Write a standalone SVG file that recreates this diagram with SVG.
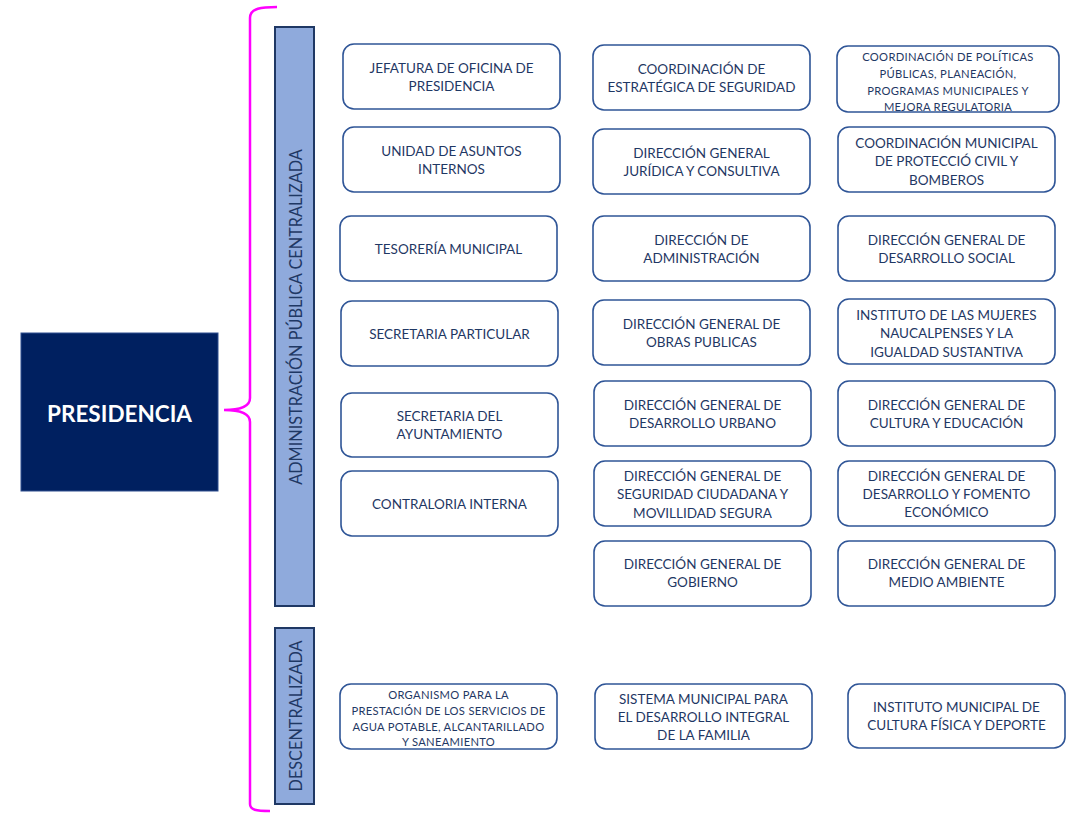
<svg xmlns="http://www.w3.org/2000/svg" width="1073" height="814" viewBox="0 0 1073 814">
<style>
.box{fill:#ffffff;stroke:#2f5597;stroke-width:1.6}
.t{font-family:Lato,"Liberation Sans",sans-serif;font-size:13.5px;fill:#1f3864;text-anchor:middle;dominant-baseline:central}
.s{font-size:11.2px;letter-spacing:0.3px}
.bar{fill:#8faadc;stroke:#1f3864;stroke-width:2}
.vt{font-family:Lato,"Liberation Sans",sans-serif;font-size:16.3px;fill:#1f3864;text-anchor:middle;dominant-baseline:central}
</style>
<rect width="1073" height="814" fill="#ffffff"/>
<g id="connectors">
<path d="M277 7 C262 7 250 8 250 18 L250 398 C250 406 241 410 224 410 C241 410 250 414 250 422 L250 804 C250 810 256 811 270 811" fill="none" stroke="#ff00ff" stroke-width="2.5"/>
</g>
<g id="presidencia">
<rect x="21" y="333" width="197" height="158" fill="#002060" stroke="#2f4f8f" stroke-width="1"/>
<text x="119.5" y="413" font-family="Lato,'Liberation Sans',sans-serif" font-size="22.5" font-weight="bold" fill="#ffffff" text-anchor="middle" dominant-baseline="central">PRESIDENCIA</text>
</g>
<g id="centralizada">
<rect class="bar" x="275" y="27" width="39" height="579"/>
<text class="vt" transform="translate(295 317) rotate(-90)">ADMINISTRACIÓN PÚBLICA CENTRALIZADA</text>
</g>
<g id="descentralizada">
<rect class="bar" x="275" y="628" width="39" height="176"/>
<text class="vt" transform="translate(295 716) rotate(-90)">DESCENTRALIZADA</text>
</g>

<g id="jefatura"><rect class="box" x="343" y="44" width="217" height="65" rx="11"/>
<text class="t" x="451.5"><tspan x="451.5" y="68">JEFATURA DE OFICINA DE</tspan><tspan x="451.5" y="86">PRESIDENCIA</tspan></text></g>
<g id="unidad"><rect class="box" x="343" y="127" width="217" height="65" rx="11"/>
<text class="t"><tspan x="451.5" y="151">UNIDAD DE ASUNTOS</tspan><tspan x="451.5" y="169">INTERNOS</tspan></text></g>
<g id="tesoreria"><rect class="box" x="340" y="216" width="217" height="65" rx="11"/>
<text class="t" x="448.5" y="249">TESORERÍA MUNICIPAL</text></g>
<g id="sec-particular"><rect class="box" x="341" y="301" width="217" height="65" rx="11"/>
<text class="t" x="449.5" y="334">SECRETARIA PARTICULAR</text></g>
<g id="sec-ayuntamiento"><rect class="box" x="341" y="393" width="217" height="64" rx="11"/>
<text class="t"><tspan x="449.5" y="416">SECRETARIA DEL</tspan><tspan x="449.5" y="434">AYUNTAMIENTO</tspan></text></g>
<g id="contraloria"><rect class="box" x="341" y="471" width="217" height="65" rx="11"/>
<text class="t" x="449.5" y="504">CONTRALORIA INTERNA</text></g>

<g id="coord-seguridad"><rect class="box" x="593" y="45" width="217" height="65" rx="11"/>
<text class="t"><tspan x="701.5" y="69">COORDINACIÓN DE</tspan><tspan x="701.5" y="87">ESTRATÉGICA DE SEGURIDAD</tspan></text></g>
<g id="juridica"><rect class="box" x="593" y="129" width="217" height="65" rx="11"/>
<text class="t"><tspan x="701.5" y="153">DIRECCIÓN GENERAL</tspan><tspan x="701.5" y="171">JURÍDICA Y CONSULTIVA</tspan></text></g>
<g id="administracion"><rect class="box" x="593" y="216" width="217" height="65" rx="11"/>
<text class="t"><tspan x="701.5" y="240">DIRECCIÓN DE</tspan><tspan x="701.5" y="258">ADMINISTRACIÓN</tspan></text></g>
<g id="obras"><rect class="box" x="593" y="300" width="217" height="65" rx="11"/>
<text class="t"><tspan x="701.5" y="324">DIRECCIÓN GENERAL DE</tspan><tspan x="701.5" y="342">OBRAS PUBLICAS</tspan></text></g>
<g id="urbano"><rect class="box" x="594" y="381" width="217" height="65" rx="11"/>
<text class="t"><tspan x="702.5" y="405">DIRECCIÓN GENERAL DE</tspan><tspan x="702.5" y="423">DESARROLLO URBANO</tspan></text></g>
<g id="seguridad"><rect class="box" x="594" y="461" width="217" height="65" rx="11"/>
<text class="t"><tspan x="702.5" y="476">DIRECCIÓN  GENERAL DE</tspan><tspan x="702.5" y="494">SEGURIDAD CIUDADANA Y</tspan><tspan x="702.5" y="513">MOVILLIDAD SEGURA</tspan></text></g>
<g id="gobierno"><rect class="box" x="594" y="541" width="217" height="65" rx="11"/>
<text class="t"><tspan x="702.5" y="564">DIRECCIÓN GENERAL DE</tspan><tspan x="702.5" y="582">GOBIERNO</tspan></text></g>

<g id="politicas"><rect class="box" x="837" y="46" width="222" height="66" rx="11"/>
<text class="t s"><tspan x="948" y="56">COORDINACIÓN DE POLÍTICAS</tspan><tspan x="948" y="73">PÚBLICAS, PLANEACIÓN,</tspan><tspan x="948" y="89.5">PROGRAMAS MUNICIPALES Y</tspan><tspan x="948" y="106">MEJORA REGULATORIA</tspan></text></g>
<g id="proteccion"><rect class="box" x="838" y="127" width="217" height="65" rx="11"/>
<text class="t"><tspan x="946.5" y="143">COORDINACIÓN MUNICIPAL</tspan><tspan x="946.5" y="161">DE PROTECCIÓ CIVIL Y</tspan><tspan x="946.5" y="180">BOMBEROS</tspan></text></g>
<g id="social"><rect class="box" x="838" y="216" width="217" height="65" rx="11"/>
<text class="t"><tspan x="946.5" y="240">DIRECCIÓN GENERAL DE</tspan><tspan x="946.5" y="258">DESARROLLO SOCIAL</tspan></text></g>
<g id="mujeres"><rect class="box" x="838" y="299" width="217" height="65" rx="11"/>
<text class="t"><tspan x="946.5" y="315">INSTITUTO DE LAS MUJERES</tspan><tspan x="946.5" y="333">NAUCALPENSES Y LA</tspan><tspan x="946.5" y="352">IGUALDAD SUSTANTIVA</tspan></text></g>
<g id="cultura"><rect class="box" x="838" y="381" width="217" height="65" rx="11"/>
<text class="t"><tspan x="946.5" y="405">DIRECCIÓN GENERAL DE</tspan><tspan x="946.5" y="423">CULTURA Y EDUCACIÓN</tspan></text></g>
<g id="fomento"><rect class="box" x="838" y="461" width="217" height="65" rx="11"/>
<text class="t"><tspan x="946.5" y="476">DIRECCIÓN GENERAL DE</tspan><tspan x="946.5" y="494">DESARROLLO Y FOMENTO</tspan><tspan x="946.5" y="512">ECONÓMICO</tspan></text></g>
<g id="ambiente"><rect class="box" x="838" y="541" width="217" height="65" rx="11"/>
<text class="t"><tspan x="946.5" y="564">DIRECCIÓN GENERAL DE</tspan><tspan x="946.5" y="582">MEDIO AMBIENTE</tspan></text></g>

<g id="organismo"><rect class="box" x="340" y="684" width="217" height="65" rx="11"/>
<text class="t s"><tspan x="448.5" y="694">ORGANISMO PARA LA</tspan><tspan x="448.5" y="710">PRESTACIÓN DE LOS SERVICIOS DE</tspan><tspan x="448.5" y="726">AGUA POTABLE, ALCANTARILLADO</tspan><tspan x="448.5" y="741">Y SANEAMIENTO</tspan></text></g>
<g id="dif"><rect class="box" x="595" y="684" width="217" height="65" rx="11"/>
<text class="t"><tspan x="703.5" y="699">SISTEMA MUNICIPAL PARA</tspan><tspan x="703.5" y="717">EL DESARROLLO INTEGRAL</tspan><tspan x="703.5" y="735">DE LA FAMILIA</tspan></text></g>
<g id="deporte"><rect class="box" x="848" y="684" width="217" height="64" rx="11"/>
<text class="t"><tspan x="956.5" y="707">INSTITUTO MUNICIPAL DE</tspan><tspan x="956.5" y="725">CULTURA FÍSICA Y DEPORTE</tspan></text></g>
</svg>
